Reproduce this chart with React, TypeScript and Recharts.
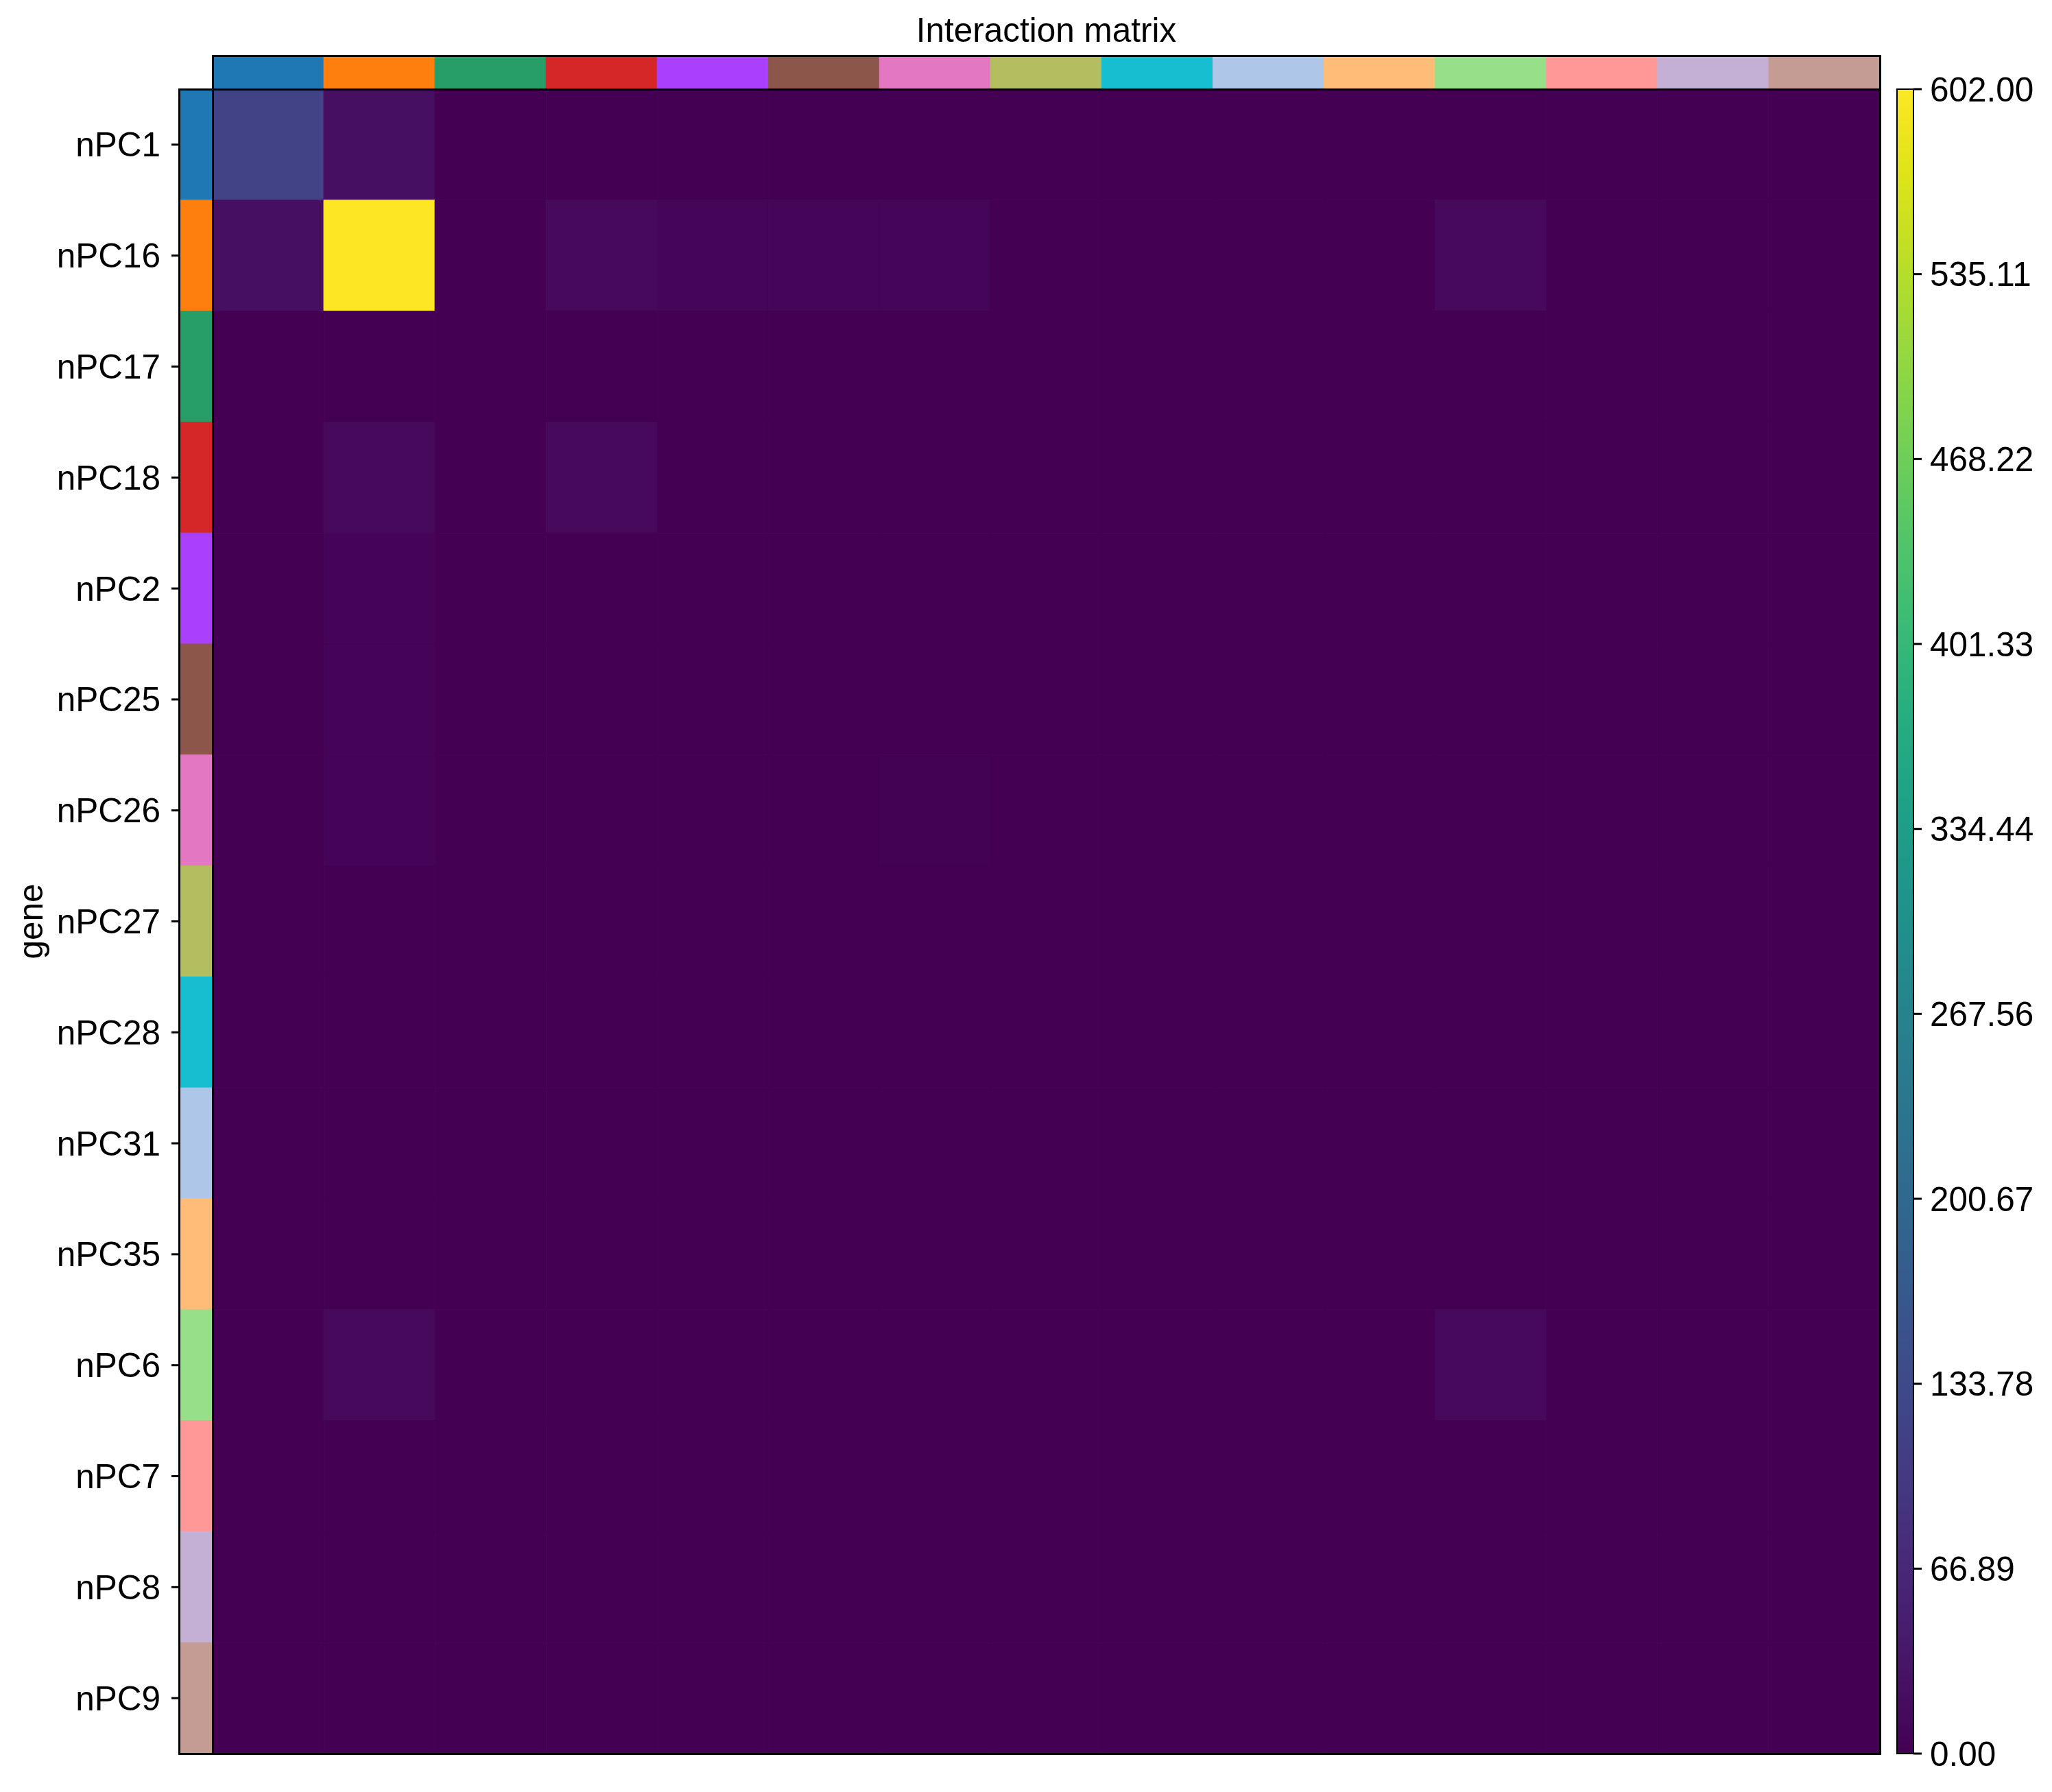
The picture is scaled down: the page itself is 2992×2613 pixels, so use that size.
import { BarChart, Bar, XAxis, YAxis, Cell } from 'recharts'

const genes = ['nPC1', 'nPC16', 'nPC17', 'nPC18', 'nPC2', 'nPC25', 'nPC26', 'nPC27', 'nPC28', 'nPC31', 'nPC35', 'nPC6', 'nPC7', 'nPC8', 'nPC9']

const geneColors = ['#1f77b4', '#ff7f0e', '#279e68', '#d62728', '#aa40fc', '#8c564b', '#e377c2', '#b5bd61', '#17becf', '#aec7e8', '#ffbb78', '#98df8a', '#ff9896', '#c5b0d5', '#c49c94']

// interaction counts: rows = genes top->bottom, columns = genes left->right
const counts = [
  [118, 22, 0, 0, 0, 0, 0, 0, 0, 0, 0, 0, 0, 0, 0],
  [22, 602, 0, 13, 7, 7, 7, 0, 0, 0, 0, 12, 0, 0, 0],
  [0, 0, 0, 0, 0, 0, 0, 0, 0, 0, 0, 0, 0, 0, 0],
  [0, 12, 0, 12, 0, 0, 0, 0, 0, 0, 0, 0, 0, 0, 0],
  [0, 5, 0, 0, 0, 0, 0, 0, 0, 0, 0, 0, 0, 0, 0],
  [0, 5, 0, 0, 0, 0, 0, 0, 0, 0, 0, 0, 0, 0, 0],
  [0, 5, 0, 0, 0, 0, 2, 0, 0, 0, 0, 0, 0, 0, 0],
  [0, 0, 0, 0, 0, 0, 0, 0, 0, 0, 0, 0, 0, 0, 0],
  [0, 0, 0, 0, 0, 0, 0, 0, 0, 0, 0, 0, 0, 0, 0],
  [0, 0, 0, 0, 0, 0, 0, 0, 0, 0, 0, 0, 0, 0, 0],
  [0, 0, 0, 0, 0, 0, 0, 0, 0, 0, 0, 0, 0, 0, 0],
  [0, 12, 0, 0, 0, 0, 0, 0, 0, 0, 0, 12, 0, 0, 0],
  [0, 0, 0, 0, 0, 0, 0, 0, 0, 0, 0, 0, 0, 0, 0],
  [0, 0, 0, 0, 0, 0, 0, 0, 0, 0, 0, 0, 0, 0, 0],
  [0, 0, 0, 0, 0, 0, 0, 0, 0, 0, 0, 0, 0, 0, 0],
]

const colorbarTicks = [0, 66.89, 133.78, 200.67, 267.56, 334.44, 401.33, 468.22, 535.11, 602]
const vmin = 0
const vmax = 602

// viridis colormap anchors (evenly spaced 0..1)
const viridis = [
  '#440154', '#481567', '#482677', '#453781', '#3f4788', '#39558c', '#32648e', '#2d718e',
  '#287d8e', '#238a8d', '#1f968b', '#20a386', '#29af7f', '#3dbc74', '#56c667', '#75d054',
  '#95d840', '#bade28', '#dde318', '#fde725',
]

function hexToRgb(h: string) {
  const n = parseInt(h.slice(1), 16)
  return [(n >> 16) & 255, (n >> 8) & 255, n & 255]
}

function viridisColor(v: number) {
  const t = Math.max(0, Math.min(1, (v - vmin) / (vmax - vmin)))
  const pos = t * (viridis.length - 1)
  const i = Math.min(viridis.length - 2, Math.floor(pos))
  const f = pos - i
  const a = hexToRgb(viridis[i])
  const b = hexToRgb(viridis[i + 1])
  const c = a.map((x, k) => Math.round(x + (b[k] - x) * f))
  return `rgb(${c[0]},${c[1]},${c[2]})`
}

const FONT = '"Liberation Sans", Arial, sans-serif'
const TEXT = 49.5

// layout (page px)
const HM_X = 310
const HM_Y = 130
const HM_W = 2431
const HM_H = 2427
const STRIP = 49
const CB_X = 2766
const CB_W = 24
const CB_PAD = 50

const heatData = genes.map((g) => {
  const row: Record<string, string | number> = { col: g }
  genes.forEach((_, r) => {
    row['r' + r] = 1
  })
  return row
})

const stripData = genes.map((g) => ({ gene: g, v: 1 }))
const cbData = [{ k: 'cb', v: vmax }]

function Frame({ x, y, w, h, t = 3 }: { x: number; y: number; w: number; h: number; t?: number }) {
  return (
    <div
      style={{
        position: 'absolute',
        left: x - t / 2,
        top: y - t / 2,
        width: w + t,
        height: h + t,
        border: `${t}px solid #000`,
        boxSizing: 'border-box',
        pointerEvents: 'none',
      }}
    />
  )
}

export default function App() {
  return (
    <div
      style={{
        position: 'absolute',
        left: 0,
        top: 0,
        width: 2992,
        height: 2613,
        background: '#fff',
        fontFamily: FONT,
        overflow: 'hidden',
      }}
    >
      <svg style={{ position: 'absolute', left: 0, top: 0 }} width={2992} height={80}>
        <text x={HM_X + HM_W / 2} y={61} textAnchor="middle" fontSize={TEXT} fontFamily={FONT} fill="#000">
          Interaction matrix
        </text>
      </svg>

      {/* top category strip */}
      <div style={{ position: 'absolute', left: HM_X, top: HM_Y - STRIP }}>
        <BarChart width={HM_W} height={STRIP} data={stripData} margin={{ top: 0, right: 0, bottom: 0, left: 0 }} barCategoryGap={0}>
          <XAxis dataKey="gene" hide />
          <YAxis type="number" domain={[0, 1]} hide />
          <Bar dataKey="v" isAnimationActive={false}>
            {stripData.map((d, i) => (
              <Cell key={d.gene} fill={geneColors[i]} stroke={geneColors[i]} strokeWidth={1} />
            ))}
          </Bar>
        </BarChart>
      </div>

      {/* left category strip with gene labels */}
      <div style={{ position: 'absolute', left: 0, top: HM_Y }}>
        <BarChart
          layout="vertical"
          width={HM_X}
          height={HM_H}
          data={stripData}
          margin={{ top: 0, right: 0, bottom: 0, left: 0 }}
          barCategoryGap={0}
        >
          <XAxis type="number" domain={[0, 1]} hide />
          <YAxis
            type="category"
            dataKey="gene"
            width={HM_X - STRIP}
            interval={0}
            axisLine={false}
            tickSize={11}
            tickMargin={16}
            tickLine={{ stroke: '#000', strokeWidth: 3 }}
            tick={{ fontSize: TEXT, fill: '#000', fontFamily: FONT }}
            label={{
              value: 'gene',
              angle: -90,
              position: 'insideLeft',
              offset: 44,
              fontSize: TEXT,
              fill: '#000',
              style: { textAnchor: 'middle', fontFamily: FONT },
            }}
          />
          <Bar dataKey="v" isAnimationActive={false}>
            {stripData.map((d, i) => (
              <Cell key={d.gene} fill={geneColors[i]} stroke={geneColors[i]} strokeWidth={1} />
            ))}
          </Bar>
        </BarChart>
      </div>

      {/* heatmap: one stacked unit bar per row in every column, coloured by count */}
      <div style={{ position: 'absolute', left: HM_X, top: HM_Y }}>
        <BarChart width={HM_W} height={HM_H} data={heatData} margin={{ top: 0, right: 0, bottom: 0, left: 0 }} barCategoryGap={0} barGap={0}>
          <XAxis dataKey="col" hide />
          <YAxis type="number" domain={[0, genes.length]} reversed hide />
          {genes.map((_, r) => (
            <Bar key={r} dataKey={'r' + r} stackId="m" isAnimationActive={false}>
              {genes.map((g, c) => {
                const col = viridisColor(counts[r][c])
                return <Cell key={g} fill={col} stroke={col} strokeWidth={1} />
              })}
            </Bar>
          ))}
        </BarChart>
      </div>

      {/* colorbar */}
      <div style={{ position: 'absolute', left: CB_X, top: HM_Y - CB_PAD }}>
        <BarChart
          width={2992 - CB_X}
          height={HM_H + CB_PAD * 2}
          data={cbData}
          margin={{ top: CB_PAD, right: 0, bottom: CB_PAD, left: 0 }}
          barCategoryGap={0}
        >
          <defs>
            <linearGradient id="viridisCb" x1="0" y1="1" x2="0" y2="0">
              {viridis.map((c, i) => (
                <stop key={i} offset={i / (viridis.length - 1)} stopColor={c} />
              ))}
            </linearGradient>
          </defs>
          <XAxis dataKey="k" hide />
          <YAxis
            type="number"
            orientation="right"
            domain={[vmin, vmax]}
            ticks={colorbarTicks}
            interval={0}
            width={2992 - CB_X - CB_W}
            axisLine={false}
            tickSize={12}
            tickMargin={12}
            tickLine={{ stroke: '#000', strokeWidth: 3 }}
            tick={{ fontSize: TEXT, fill: '#000', fontFamily: FONT, textAnchor: 'start' }}
            tickFormatter={(v: number) => v.toFixed(2)}
          />
          <Bar dataKey="v" fill="url(#viridisCb)" isAnimationActive={false} />
        </BarChart>
      </div>

      <Frame x={HM_X} y={HM_Y - STRIP} w={HM_W} h={STRIP} />
      <Frame x={HM_X - STRIP} y={HM_Y} w={STRIP} h={HM_H} />
      <Frame x={HM_X} y={HM_Y} w={HM_W} h={HM_H} />
      <Frame x={CB_X} y={HM_Y} w={CB_W} h={HM_H} t={2.5} />
    </div>
  )
}
